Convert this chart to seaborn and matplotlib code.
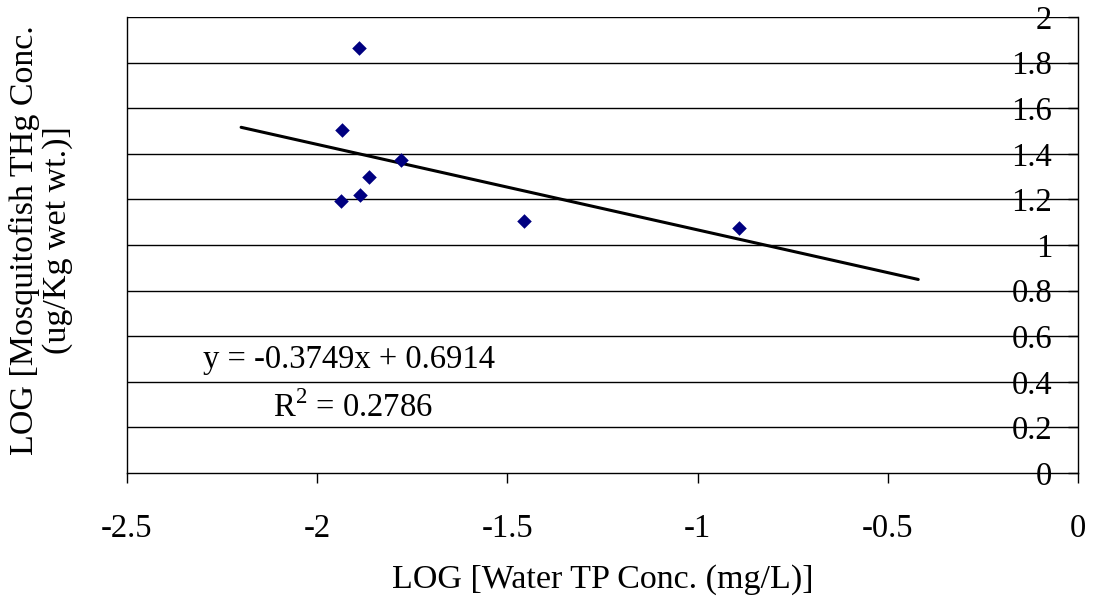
import matplotlib
matplotlib.use("Agg")
import matplotlib.pyplot as plt
import seaborn as sns
import numpy as np
import pandas as pd

# Data
log_tp = [-1.89, -1.935, -1.78, -1.864, -1.888, -1.937, -1.456, -0.891]
log_thg = [1.864, 1.504, 1.373, 1.298, 1.219, 1.193, 1.105, 1.075]
slope = -0.3749
intercept = 0.6914
r_squared = 0.2786
trend_x = [-2.2, -0.42]
x_ticks = [-2.5, -2, -1.5, -1, -0.5, 0]
x_tick_labels = ["-2.5", "-2", "-1.5", "-1", "-0.5", "0"]
y_ticks = [0, 0.2, 0.4, 0.6, 0.8, 1, 1.2, 1.4, 1.6, 1.8, 2]
y_tick_labels = ["0", "0.2", "0.4", "0.6", "0.8", "1", "1.2", "1.4", "1.6", "1.8", "2"]

sns.set_theme(style="white")
plt.rcParams['font.family'] = ['Liberation Serif', 'DejaVu Serif']
plt.rcParams['mathtext.fontset'] = 'custom'
plt.rcParams['mathtext.rm'] = 'Liberation Serif'
plt.rcParams['text.color'] = 'black'
plt.rcParams['xtick.color'] = 'black'
plt.rcParams['ytick.color'] = 'black'
plt.rcParams['xtick.labelcolor'] = 'black'
plt.rcParams['ytick.labelcolor'] = 'black'

FS = 23.5
FSL = 24.5

df = pd.DataFrame({"x": log_tp, "y": log_thg})
trend_y = [slope * v + intercept for v in trend_x]
tdf = pd.DataFrame({"x": trend_x, "y": trend_y})

fig = plt.figure(figsize=(10.93, 6.03), dpi=100)
ax = fig.add_axes([127/1093, 1 - 473/603, (1078 - 127)/1093, (473 - 17)/603])

ax.set_xlim(-2.5, 0)
ax.set_ylim(0, 2)

# gridlines
for yt in y_ticks[1:]:
    ax.axhline(yt, color="black", lw=1, zorder=1)

sns.lineplot(data=tdf, x="x", y="y", ax=ax, color="black", lw=2.2, zorder=2)
sns.scatterplot(data=df, x="x", y="y", ax=ax, marker="D", s=55, color="#000080",
                edgecolor="#000080", linewidth=0, zorder=3)

for side in ["left", "right", "bottom"]:
    ax.spines[side].set_visible(True)
    ax.spines[side].set_color("black")
    ax.spines[side].set_linewidth(1)
ax.spines["top"].set_visible(False)

ax.set_xticks(x_ticks)
ax.set_xticklabels(x_tick_labels)
ax.tick_params(axis="x", direction="out", length=7, width=1, color="black",
               labelcolor="black", labelsize=FS, pad=22, bottom=True)

ax.yaxis.set_ticks_position("right")
ax.set_yticks(y_ticks)
ax.set_yticklabels(y_tick_labels)
ax.tick_params(axis="y", direction="in", length=7, width=1, color="black",
               labelcolor="black", labelsize=FS, pad=-18.7, right=True, left=False)
for lab in ax.get_yticklabels():
    lab.set_horizontalalignment("right")

ax.set_xlabel("")
ax.set_ylabel("")
fig.text((127 + 1078) / 2 / 1093, 1 - 580/603, "LOG [Water TP Conc. (mg/L)]",
         ha="center", va="center", fontsize=FSL, color="black")
fig.text(41/1093, 1 - 240/603, "LOG [Mosquitofish THg Conc.\n(ug/Kg wet wt.)]",
         rotation=90, ha="center", va="center", fontsize=FSL, linespacing=1.12,
         multialignment="center", color="black")

ax.text(-2.30, 0.46, f"y = {slope}x + {intercept}", fontsize=FS, ha="left",
        va="baseline", zorder=4, color="black")
ax.text(-2.116, 0.246, f"R$^2$ = {r_squared}", fontsize=FS, ha="left",
        va="baseline", zorder=4, color="black")

fig.savefig("out.png", dpi=100)
